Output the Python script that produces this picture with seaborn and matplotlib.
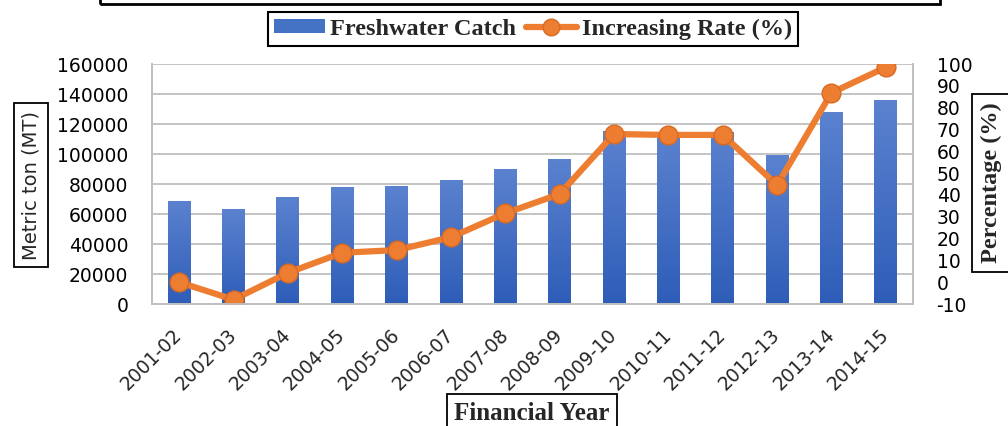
import matplotlib
matplotlib.use("Agg")
import matplotlib.pyplot as plt
from matplotlib.colors import LinearSegmentedColormap
from matplotlib.lines import Line2D
from matplotlib.patches import Patch, Rectangle
import numpy as np
import pandas as pd
import seaborn as sns

years = ["2001-02", "2002-03", "2003-04", "2004-05", "2005-06", "2006-07", "2007-08",
         "2008-09", "2009-10", "2010-11", "2011-12", "2012-13", "2013-14", "2014-15"]
catch_mt = [68700, 63300, 71300, 78000, 78700, 82700, 90000,
            96700, 115300, 114000, 114700, 99300, 128000, 136000]
increase_pct = [0.0, -8.0, 4.3, 13.5, 14.7, 20.6, 31.6,
                40.4, 67.9, 67.5, 67.5, 44.5, 86.8, 98.5]

df = pd.DataFrame({"year": years, "catch": catch_mt, "rate": increase_pct})

sns.set_style("white")
plt.rcParams["font.family"] = ["DejaVu Sans"]
plt.rcParams["axes.unicode_minus"] = False

BAR_TOP = "#5B82CF"
BAR_BOTTOM = "#2E5DB8"
ORANGE = "#ED7D31"
GRID = "#BFBFBF"
serif_bold = {"family": "Liberation Serif", "weight": "bold"}

fig = plt.figure(figsize=(10.08, 4.26), dpi=100)
ax = fig.add_axes([152 / 1008, 1 - 304 / 426, 761 / 1008, 240 / 426])

sns.barplot(data=df, x="year", y="catch", color=BAR_BOTTOM, width=0.42, ax=ax,
            saturation=1, zorder=2)

# excel-style vertical gradient on the bars
cmap = LinearSegmentedColormap.from_list("bars", [BAR_BOTTOM, BAR_TOP])
for bar in ax.patches:
    x0, y0 = bar.get_x(), bar.get_y()
    w, h = bar.get_width(), bar.get_height()
    img = ax.imshow(np.linspace(0, 1, 128).reshape(-1, 1), cmap=cmap, aspect="auto",
                    origin="lower", extent=[x0, x0 + w, y0, y0 + h], zorder=2)
    img.set_clip_path(bar)
    bar.set_facecolor("none")
    bar.set_edgecolor("none")

ax.set_xlim(-0.5, len(years) - 0.5)
ax.set_ylim(0, 160000)
ax.set_yticks(np.arange(0, 160001, 20000))
ax.yaxis.grid(True, color=GRID, linewidth=1.3)
ax.set_axisbelow(True)
ax.set_xlabel("")
ax.set_ylabel("")

ax2 = ax.twinx()
sns.pointplot(data=df, x="year", y="rate", color=ORANGE, ax=ax2, markers="o",
              markersize=13.5, linewidth=4.5, markeredgecolor="#D86A22",
              markeredgewidth=1)
ax2.set_xlim(-0.5, len(years) - 0.5)
ax2.set_ylim(-10, 100)
ax2.set_yticks(np.arange(-10, 101, 10))
ax2.set_ylabel("")
ax2.set_xlabel("")
ax2.grid(False)

for a in (ax, ax2):
    a.spines["top"].set_visible(False)
    for side in ("left", "right", "bottom"):
        a.spines[side].set_color(GRID)
        a.spines[side].set_linewidth(1.3)

ax.tick_params(axis="y", length=0, pad=17, labelsize=13.5, colors="black")
ax2.tick_params(axis="y", length=0, pad=17, labelsize=13.5, colors="black")

# category tick marks between the bars, labels on the centres
ax.set_xticks(np.arange(-0.5, len(years), 1.0), minor=True)
ax.tick_params(axis="x", which="minor", length=6, width=1.3, color=GRID, direction="out")
ax.tick_params(axis="x", which="major", length=0, pad=20, labelsize=13.5)
ax.set_xticks(range(len(years)))
ax.set_xticklabels(years, rotation=45, ha="right", va="center", rotation_mode="anchor")
ax2.tick_params(axis="x", which="both", length=0, labelbottom=False)

# axis titles in boxes
fig.text(31 / 1008, 1 - 185 / 426, "Metric ton (MT)", rotation=90, ha="center", va="center",
         fontsize=14, bbox=dict(boxstyle="square,pad=0.4", fc="white", ec="black", lw=1.3))
fig.text(991 / 1008, 1 - 183 / 426, "Percentage (%)", rotation=90, ha="center", va="center",
         fontsize=17.5, fontdict=serif_bold,
         bbox=dict(boxstyle="square,pad=0.35", fc="white", ec="black", lw=1.3))
fig.text(532 / 1008, 1 - 413 / 426, "Financial Year", ha="center", va="center",
         fontsize=18, fontdict=serif_bold,
         bbox=dict(boxstyle="square,pad=0.3", fc="white", ec="black", lw=1.3))

handles = [Patch(facecolor="#4472C4", edgecolor="none"),
           Line2D([0], [0], color=ORANGE, lw=4.5, marker="o", markersize=12,
                  markeredgecolor="#D86A22", markeredgewidth=1)]
leg = fig.legend(handles, ["Freshwater Catch", "Increasing Rate (%)"], loc="center",
                 bbox_to_anchor=(533 / 1008, 1 - 29 / 426), ncol=2, frameon=True,
                 fancybox=False, framealpha=1, edgecolor="black", borderpad=0.25,
                 handlelength=2.1, handleheight=0.5, handletextpad=0.2, columnspacing=0.4,
                 prop={"family": "Liberation Serif", "weight": "bold", "size": 17.5})
leg.get_frame().set_linewidth(1.5)

# bottom edge of the title box cut off at the top of the image
fig.patches.append(Rectangle((100 / 1008, 1 - 4 / 426), 840 / 1008, 0.2, fill=False,
                             ec="black", lw=2, transform=fig.transFigure, clip_on=False))

fig.savefig("out.png", dpi=100)
